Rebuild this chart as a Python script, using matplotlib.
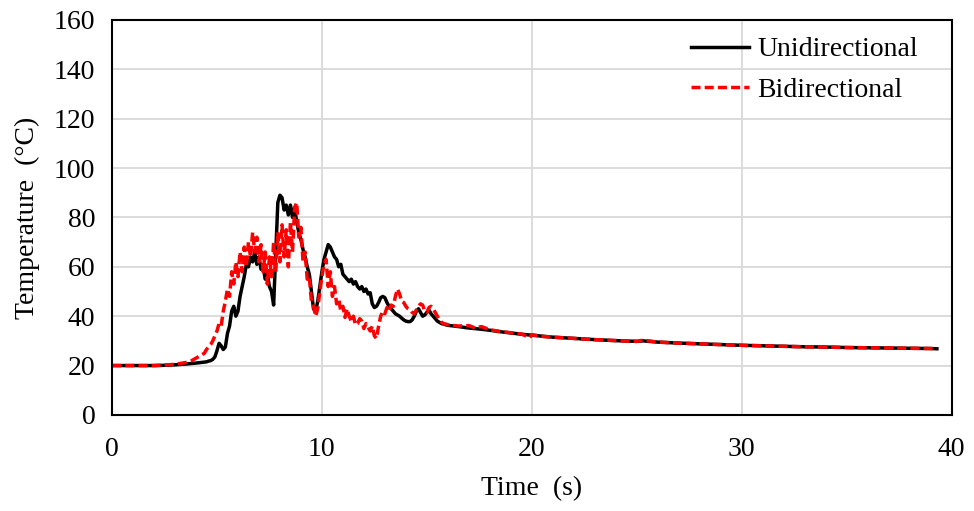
import numpy as np
import matplotlib.pyplot as plt

# Temperature history
# coarse start, dense 0.1 s section (4.5 - 15.9 s), coarse tail
t_start_uni = [0, 1, 2, 2.5, 3, 3.5, 4.0, 4.3]
temp_start_uni = [20, 20, 20, 20.1, 20.3, 20.6, 21, 21.3]

t_start_bi = [0, 1, 2, 2.5, 3, 3.5, 3.8, 4.0, 4.2, 4.4]
temp_start_bi = [20, 20, 20, 20.2, 20.5, 21.2, 22, 23, 24, 25]

temp_dense_uni = [
    21.5, 21.8, 22, 22.5, 23.5, 26, 29, 28, 26.5, 27.5,      # 4.5 - 5.4
    33, 36, 42, 44, 40, 42, 48, 52, 56, 61,                  # 5.5 - 6.4
    60, 64, 62, 66, 61, 64, 59, 60, 55, 57,                  # 6.5 - 7.4
    52, 50, 44.5, 65, 86, 89, 88, 83, 85, 81,                # 7.5 - 8.4
    85, 80, 84, 78, 74, 71, 67, 64, 60, 57,                  # 8.5 - 9.4
    50, 43, 42, 46, 52, 58, 63, 66, 69, 68,                  # 9.5 - 10.4
    66, 64, 63, 60, 61, 57, 56, 55, 54, 55,                  # 10.5 - 11.4
    53, 54, 52, 51, 52, 50, 51, 49, 49.5, 45,                # 11.5 - 12.4
    43.5, 44, 45.5, 47.5, 48, 47.5, 45.5, 44, 43, 42,        # 12.5 - 13.4
    41, 40.5, 40, 39.2, 38.5, 38, 37.8, 37.8, 38.5, 40,      # 13.5 - 14.4
    42, 43, 41.5, 40, 40.5, 41.5, 42.5, 41, 40, 39,          # 14.5 - 15.4
    38, 37.5, 37, 36.8, 36.5,                                # 15.5 - 15.9
]

temp_dense_bi = [
    26.5, 27.5, 28.5, 30, 32, 34, 37, 36, 42, 46,            # 4.5 - 5.4
    51, 48, 58, 53, 62, 56, 66, 58, 68, 60,                  # 5.5 - 6.4
    70, 64, 74, 66, 72, 62, 69, 58, 66, 53,                  # 6.5 - 7.4
    64, 56, 70, 58, 74, 62, 77, 64, 75, 60,                  # 7.5 - 8.4
    78, 66, 84, 86, 72, 76, 62, 66, 55, 56,                  # 8.5 - 9.4
    46, 44, 40, 43, 50, 56, 61, 63, 52, 58,                  # 9.5 - 10.4
    48, 52, 45, 47, 42, 44, 39.5, 43, 40, 38,                # 10.5 - 11.4
    40, 36.5, 37, 39, 38, 35, 37, 35.5, 34, 36,              # 11.5 - 12.4
    32, 31, 36, 40, 42, 41, 43.5, 42, 44.5, 44,              # 12.5 - 13.4
    48, 51, 49, 46, 45.5, 44, 43, 42.5, 41.5, 41,            # 13.5 - 14.4
    42.5, 44, 45, 44.5, 42, 41.5, 43.5, 44, 43, 41.5,        # 14.5 - 15.4
    40, 38.5, 37.5, 37, 36.8,                                # 15.5 - 15.9
]

t_tail_uni = [16.0, 16.5, 17.0, 17.5, 18.0, 18.5, 19.0, 19.5, 20.0, 21, 22, 23, 24, 25, 25.3,
              26, 27, 28, 29, 30, 31, 32, 33, 34, 35, 36, 37, 38, 39, 39.3]
temp_tail_uni = [36.3, 35.8, 35.2, 34.8, 34.3, 33.7, 33.2, 32.7, 32.3, 31.5, 31, 30.5, 30.1, 29.8, 30,
                 29.5, 29.1, 28.8, 28.5, 28.2, 28, 27.8, 27.6, 27.5, 27.3, 27.2, 27.1, 27, 26.9, 26.8]

t_tail_bi = [16.0, 16.5, 17.0, 17.3, 17.6, 18.0, 18.5, 19.0, 19.5, 19.9, 20.0, 20.5, 21, 22, 23, 24, 25, 25.3,
             26, 27, 28, 29, 30, 31, 32, 33, 34, 35, 36, 37, 38, 39, 39.3]
temp_tail_bi = [36.5, 36, 36.2, 35.2, 35.8, 34.5, 33.8, 33.3, 32.8, 31.3, 32.5, 31.8, 31.5, 31, 30.5, 30.1, 29.8, 30.3,
                29.5, 29.1, 28.8, 28.5, 28.2, 28, 27.8, 27.6, 27.5, 27.3, 27.2, 27.1, 27, 26.9, 26.8]

x_ticks = [0, 10, 20, 30, 40]
y_ticks = [0, 20, 40, 60, 80, 100, 120, 140, 160]

# sampling grid of the dense section
t_dense = np.round(4.5 + 0.1 * np.arange(len(temp_dense_uni)), 1)

t_uni = np.concatenate([t_start_uni, t_dense, t_tail_uni])
temp_uni = np.concatenate([temp_start_uni, temp_dense_uni, temp_tail_uni])
t_bi = np.concatenate([t_start_bi, t_dense, t_tail_bi])
temp_bi = np.concatenate([temp_start_bi, temp_dense_bi, temp_tail_bi])

plt.rcParams['font.family'] = ['Liberation Serif', 'DejaVu Serif']

fig = plt.figure(figsize=(9.74, 5.11), dpi=100)
ax = fig.add_axes([0.115, 0.188, 0.862, 0.773])

ax.plot(t_uni, temp_uni, color='black', linewidth=2.5, label='Unidirectional')
ax.plot(t_bi, temp_bi, color='#ff0000', linewidth=2.5, dashes=(2.6, 1.2), label='Bidirectional')

ax.set_xlim(0, 40)
ax.set_ylim(0, 160)
ax.set_xticks(x_ticks)
ax.set_yticks(y_ticks)
ax.tick_params(length=0, labelsize=20, pad=12)
ax.tick_params(axis='x', pad=16)
ax.grid(True, color='#d9d9d9', linewidth=1.3)
ax.set_axisbelow(True)
for sp in ax.spines.values():
    sp.set_linewidth(1.5)
    sp.set_color('black')

ax.set_xlabel('Time  (s)', fontsize=20, labelpad=10)
ax.set_ylabel('Temperature  (°C)', fontsize=20, labelpad=10)

ax.legend(loc='upper right', bbox_to_anchor=(0.99, 1.02), frameon=False, fontsize=20,
          handlelength=2.1, handletextpad=0.3, labelspacing=0.55)

fig.savefig('out.png', dpi=100)
